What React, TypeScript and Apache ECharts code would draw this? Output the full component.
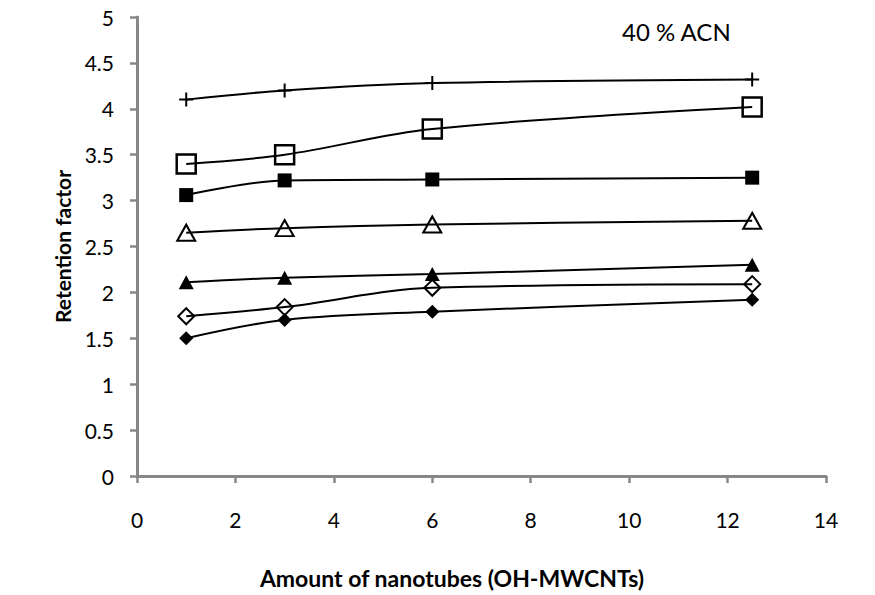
import React, { useEffect, useRef } from "react";
import * as echarts from "echarts";

const xValues = [1, 3, 6, 12.5];
const plusSeries = [4.1, 4.2, 4.28, 4.32];
const openSquareSeries = [3.4, 3.5, 3.78, 4.02];
const filledSquareSeries = [3.06, 3.22, 3.23, 3.25];
const openTriangleSeries = [2.65, 2.7, 2.74, 2.78];
const filledTriangleSeries = [2.11, 2.16, 2.2, 2.3];
const openDiamondSeries = [1.74, 1.84, 2.05, 2.09];
const filledDiamondSeries = [1.5, 1.7, 1.79, 1.92];

const xTitle = "Amount of nanotubes (OH-MWCNTs)";
const yTitle = "Retention factor";
const annotation = "40 % ACN";

const FONT = "Lato, 'Open Sans', sans-serif";
const PLUS = "path://M6,0H8V6H14V8H8V14H6V8H0V6H6Z";

function pairs(ys: number[]) {
  return xValues.map((x, i) => [x, ys[i]]);
}

function mk(name: string, ys: number[], symbol: string, size: any, filled: boolean, borderW = 2) {
  return {
    name,
    type: "line",
    data: pairs(ys),
    smooth: 0.35,
    symbol,
    symbolSize: size,
    showAllSymbol: true,
    lineStyle: { color: "#000", width: 2 },
    itemStyle: filled
      ? { color: "#000", borderColor: "#000", borderWidth: 0 }
      : { color: "rgba(255,255,255,0)", borderColor: "#000", borderWidth: borderW },
    emphasis: { disabled: true },
    z: 3,
  };
}

export default function App() {
  const ref = useRef<HTMLDivElement>(null);
  useEffect(() => {
    document.body.style.margin = "0";
    const chart = echarts.init(ref.current!, null, { renderer: "svg" });
    chart.setOption({
      animation: false,
      backgroundColor: "#fff",
      grid: { left: 137, right: 49, top: 17, bottom: 119, containLabel: false },
      xAxis: {
        type: "value",
        min: 0,
        max: 14,
        interval: 2,
        splitLine: { show: false },
        axisLine: { show: true, onZero: false, lineStyle: { color: "#878787", width: 3 } },
        axisTick: { show: true, length: 7, lineStyle: { color: "#878787", width: 2.5 } },
        axisLabel: { color: "#000", fontSize: 21, fontFamily: FONT, margin: 33 },
      },
      yAxis: {
        type: "value",
        min: 0,
        max: 5,
        interval: 0.5,
        splitLine: { show: false },
        axisLine: { show: true, lineStyle: { color: "#878787", width: 3 } },
        axisTick: { show: true, length: 7, lineStyle: { color: "#878787", width: 2.5 } },
        axisLabel: { color: "#000", fontSize: 21, fontFamily: FONT, margin: 23 },
        name: yTitle,
        nameLocation: "middle",
        nameGap: 64,
        nameTextStyle: { color: "#000", fontSize: 21, fontWeight: "bold", fontFamily: FONT },
      },
      graphic: [
        {
          type: "text",
          left: 622,
          top: 19,
          style: { text: annotation, fontSize: 24, fontFamily: FONT, fill: "#000" },
        },
        {
          type: "text",
          x: 452,
          y: 578,
          style: {
            text: xTitle,
            fontSize: 23,
            fontWeight: "bold",
            fontFamily: FONT,
            fill: "#000",
            align: "center",
            verticalAlign: "middle",
          },
        },
      ],
      series: [
        mk("plus", plusSeries, PLUS, 14, true),
        mk("openSquare", openSquareSeries, "rect", 19, false, 2.5),
        mk("filledSquare", filledSquareSeries, "rect", 14, true),
        mk("openTriangle", openTriangleSeries, "triangle", [18, 16], false),
        mk("filledTriangle", filledTriangleSeries, "triangle", [15, 14], true),
        mk("openDiamond", openDiamondSeries, "diamond", [16, 16], false),
        mk("filledDiamond", filledDiamondSeries, "diamond", [14, 14], true),
      ],
    });
    return () => chart.dispose();
  }, []);
  return <div ref={ref} style={{ position: "absolute", left: 0, top: 0, width: 875, height: 595 }} />;
}
